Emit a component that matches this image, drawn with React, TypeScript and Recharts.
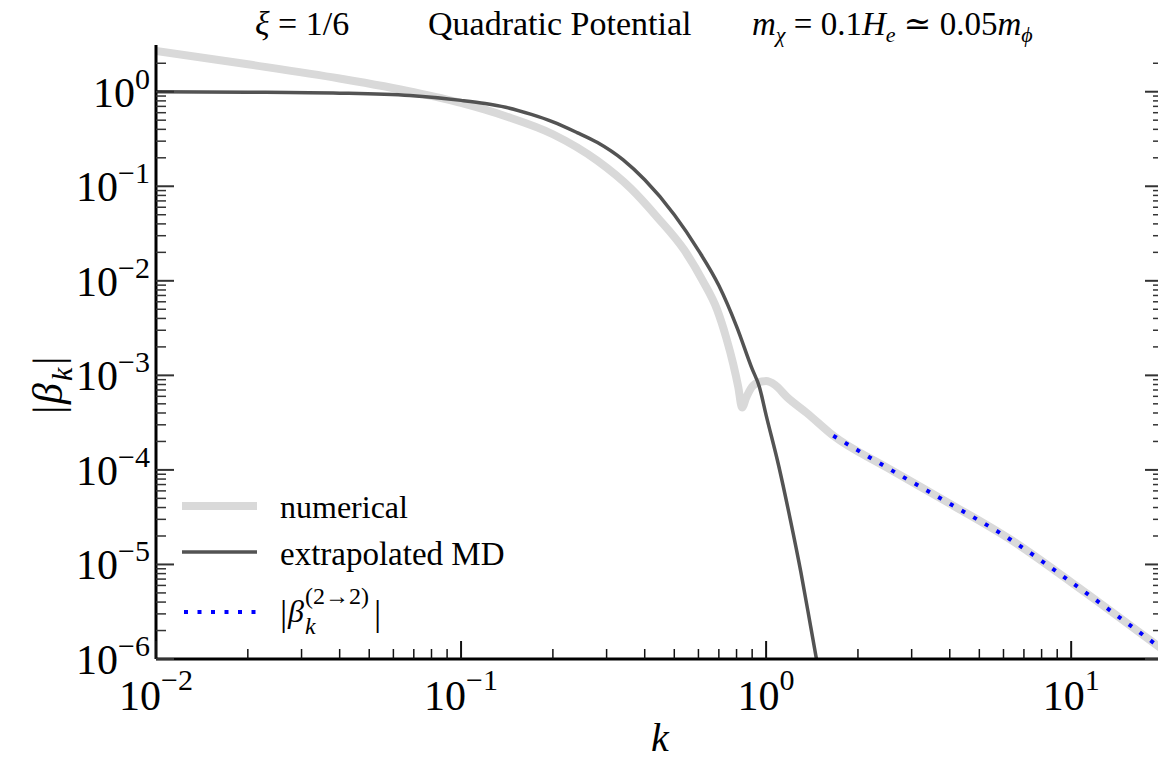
import React from 'react'
import { LineChart, Line, XAxis, YAxis, Legend, Customized } from 'recharts'

// |beta_k| vs k (log-log)
const numericalK = [0.01, 0.02, 0.04, 0.07, 0.1, 0.14, 0.2, 0.28, 0.36, 0.44, 0.54, 0.62, 0.69, 0.74, 0.78, 0.81, 0.834, 0.86, 0.9, 0.95, 1.0, 1.07, 1.17, 1.36, 1.66, 2.5, 4, 6.3, 10, 20]
const numericalBeta = [2.7, 1.95, 1.38, 0.99, 0.76, 0.55, 0.355, 0.186, 0.095, 0.047, 0.021, 0.01, 0.005, 0.0025, 0.00132, 0.00076, 0.000457, 0.00058, 0.00076, 0.00085, 0.00087, 0.00079, 0.00059, 0.0004, 0.00023, 1.05e-4, 4.4e-5, 1.85e-5, 6.5e-6, 1.25e-6]

const mdK = [0.01, 0.02, 0.04, 0.068, 0.1, 0.12, 0.14, 0.17, 0.2, 0.24, 0.28, 0.34, 0.4, 0.5, 0.6, 0.7, 0.8, 0.9, 0.95, 1.0, 1.1, 1.2, 1.3, 1.4, 1.5]
const mdBeta = [1.0, 0.99, 0.966, 0.91, 0.81, 0.75, 0.684, 0.575, 0.48, 0.37, 0.29, 0.19, 0.117, 0.05, 0.021, 0.0089, 0.0033, 0.00117, 0.00076, 0.00038, 1.1e-4, 3.0e-5, 8.3e-6, 2.2e-6, 6.3e-7]

const twoToTwoK = [1.66, 2.5, 4, 6.3, 10, 20]
const twoToTwoBeta = [2.3e-4, 1.05e-4, 4.4e-5, 1.85e-5, 6.5e-6, 1.25e-6]

const xMajorTicks = [0.01, 0.1, 1, 10]
const yMajorTicks = [1e-6, 1e-5, 1e-4, 1e-3, 1e-2, 1e-1, 1]
const minorSteps = [2, 3, 4, 5, 6, 7, 8, 9]

const X_DOMAIN = [0.01, 20]
const Y_DOMAIN = [1e-6, 3.12]

const xTicks = [
  ...xMajorTicks,
  ...xMajorTicks.flatMap((d) => minorSteps.map((m) => m * d)).filter((v) => v < X_DOMAIN[1])
]
const yTicks = [
  ...yMajorTicks,
  ...yMajorTicks.flatMap((d) => minorSteps.map((m) => m * d)).filter((v) => v < 3)
]

const numericalData = numericalK.map((k, i) => ({ k, beta: numericalBeta[i] }))
const mdData = mdK.map((k, i) => ({ k, beta: mdBeta[i] }))
const twoToTwoData = twoToTwoK.map((k, i) => ({ k, beta: twoToTwoBeta[i] }))

const FONT = '"Liberation Serif", "DejaVu Serif", serif'
const GRAY = '#d9d9d9'
const DARK = '#535353'
const BLUE = '#0000ff'

const MAJOR_LEN = 18
const MINOR_LEN = 10

const isMajor = (v: number) => Math.abs(Math.log10(v) - Math.round(Math.log10(v))) < 1e-6
const expOf = (v: number) => {
  const e = Math.round(Math.log10(v))
  return e < 0 ? `\u2212${-e}` : `${e}`
}

function BottomTick({ x, y, payload }: any) {
  const major = isMajor(payload.value)
  return (
    <g>
      <line x1={x} x2={x} y1={y} y2={y - (major ? MAJOR_LEN : MINOR_LEN)} stroke="#111" strokeWidth={major ? 2 : 1.5} />
      {major && (
        <text x={x} y={y + 51} textAnchor="middle" fontFamily={FONT} fontSize={42} fill="#000">
          10<tspan dy={-20} fontSize={30}>{expOf(payload.value)}</tspan>
        </text>
      )}
    </g>
  )
}

function TopTick({ x, y, payload }: any) {
  const major = isMajor(payload.value)
  return <line x1={x} x2={x} y1={y} y2={y + (major ? MAJOR_LEN : MINOR_LEN)} stroke="#111" strokeWidth={major ? 2 : 1.5} />
}

function LeftTick({ x, y, payload }: any) {
  const major = isMajor(payload.value)
  return (
    <g>
      <line x1={x} x2={x + (major ? MAJOR_LEN : MINOR_LEN)} y1={y} y2={y} stroke="#333" strokeWidth={major ? 2 : 1.5} />
      {major && (
        <text x={x - 6} y={y + 15} textAnchor="end" fontFamily={FONT} fontSize={42} fill="#000">
          10<tspan dy={-18} fontSize={30}>{expOf(payload.value)}</tspan>
        </text>
      )}
    </g>
  )
}

function RightTick({ x, y, payload }: any) {
  const major = isMajor(payload.value)
  return <line x1={x} x2={x - (major ? MAJOR_LEN : MINOR_LEN)} y1={y} y2={y} stroke="#333" strokeWidth={major ? 2 : 1.5} />
}

function Title() {
  return (
    <g fontFamily={FONT} fill="#000" fontSize={34}>
      <text x={255} y={35}>
        <tspan fontStyle="italic">ξ</tspan> = 1/6
      </text>
      <text x={428} y={35}>Quadratic Potential</text>
      <text x={752} y={35} fontSize={33}>
        <tspan fontStyle="italic">m</tspan>
        <tspan fontStyle="italic" fontSize={22} dy={7}>χ</tspan>
        <tspan dy={-7}> = 0.1</tspan>
        <tspan fontStyle="italic">H</tspan>
        <tspan fontStyle="italic" fontSize={22} dy={7}>e</tspan>
        <tspan dy={-7}> ≃ 0.05</tspan>
        <tspan fontStyle="italic">m</tspan>
        <tspan fontStyle="italic" fontSize={22} dy={7}>ϕ</tspan>
      </text>
    </g>
  )
}

function LegendBox() {
  return (
    <svg width={400} height={165} style={{ display: 'block' }}>
      <g fontFamily={FONT} fill="#000">
        <line x1={12} x2={87} y1={26} y2={26} stroke={GRAY} strokeWidth={8} />
        <text x={110} y={38} fontSize={32}>numerical</text>
        <line x1={12} x2={87} y1={72} y2={72} stroke={DARK} strokeWidth={3.5} />
        <text x={110} y={85} fontSize={33}>extrapolated MD</text>
        <line x1={14} x2={90} y1={132} y2={132} stroke={BLUE} strokeWidth={4} strokeDasharray="4 9.5" />
        <text x={110} y={145} fontSize={36}>|</text>
        <text x={118} y={142} fontSize={32} fontStyle="italic">β</text>
        <text x={135} y={124} fontSize={24}>(2→2)</text>
        <text x={135} y={154} fontSize={24} fontStyle="italic">k</text>
        <text x={204} y={145} fontSize={36}>|</text>
      </g>
    </svg>
  )
}

function XLabel() {
  return (
    <text x={660} y={751} textAnchor="middle" fontFamily={FONT} fontSize={40} fontStyle="italic" fill="#000">
      k
    </text>
  )
}

function YLabel() {
  return (
    <g transform="translate(62 380) rotate(-90)" fontFamily={FONT} fill="#000">
      <text x={-34} y={0} fontSize={42}>|</text>
      <text x={-24} y={0} fontSize={42} fontStyle="italic">β</text>
      <text x={-1} y={10} fontSize={30} fontStyle="italic">k</text>
      <text x={15} y={0} fontSize={42}>|</text>
    </g>
  )
}

export default function App() {
  return (
    <div style={{ position: 'fixed', left: 0, top: 0, width: 1158, height: 761, overflow: 'hidden', background: '#fff' }}>
      <LineChart width={1166} height={761} margin={{ top: 45, right: 0, bottom: 0, left: 0 }}>
        <XAxis
          xAxisId="bottom"
          dataKey="k"
          type="number"
          scale="log"
          domain={X_DOMAIN}
          allowDataOverflow
          ticks={xTicks}
          interval={0}
          height={102}
          tickSize={0}
          tickMargin={0}
          tickLine={false}
          axisLine={{ stroke: '#000', strokeWidth: 3 }}
          tick={<BottomTick />}
          label={{ content: () => <XLabel /> }}
        />
        <XAxis
          xAxisId="top"
          orientation="top"
          dataKey="k"
          type="number"
          scale="log"
          domain={X_DOMAIN}
          allowDataOverflow
          ticks={xTicks}
          interval={0}
          height={0}
          tickSize={0}
          tickMargin={0}
          tickLine={false}
          axisLine={{ stroke: '#000', strokeWidth: 3 }}
          tick={<TopTick />}
        />
        <YAxis
          yAxisId="left"
          dataKey="beta"
          type="number"
          scale="log"
          domain={Y_DOMAIN}
          allowDataOverflow
          ticks={yTicks}
          interval={0}
          width={156}
          tickSize={0}
          tickMargin={0}
          tickLine={false}
          axisLine={{ stroke: '#000', strokeWidth: 3 }}
          tick={<LeftTick />}
          label={{ content: () => <YLabel /> }}
        />
        <YAxis
          yAxisId="right"
          orientation="right"
          dataKey="beta"
          type="number"
          scale="log"
          domain={Y_DOMAIN}
          allowDataOverflow
          ticks={yTicks}
          interval={0}
          width={3}
          tickSize={0}
          tickMargin={0}
          tickLine={false}
          axisLine={{ stroke: '#000', strokeWidth: 3 }}
          tick={<RightTick />}
        />
        <Line
          xAxisId="bottom"
          yAxisId="left"
          data={numericalData}
          dataKey="beta"
          name="numerical"
          type="monotone"
          stroke={GRAY}
          strokeWidth={8}
          dot={false}
          isAnimationActive={false}
        />
        <Line
          xAxisId="bottom"
          yAxisId="left"
          data={mdData}
          dataKey="beta"
          name="extrapolated MD"
          type="monotone"
          stroke={DARK}
          strokeWidth={3.5}
          dot={false}
          isAnimationActive={false}
        />
        <Line
          xAxisId="bottom"
          yAxisId="left"
          data={twoToTwoData}
          dataKey="beta"
          name="beta 2->2"
          type="monotone"
          stroke={BLUE}
          strokeWidth={4}
          strokeDasharray="4 9.5"
          dot={false}
          isAnimationActive={false}
        />
        <Legend
          layout="vertical"
          align="center"
          verticalAlign="middle"
          wrapperStyle={{ left: 170, top: 480, width: 400, height: 165 }}
          content={() => <LegendBox />}
        />
        <Customized component={Title} />
      </LineChart>
    </div>
  )
}
